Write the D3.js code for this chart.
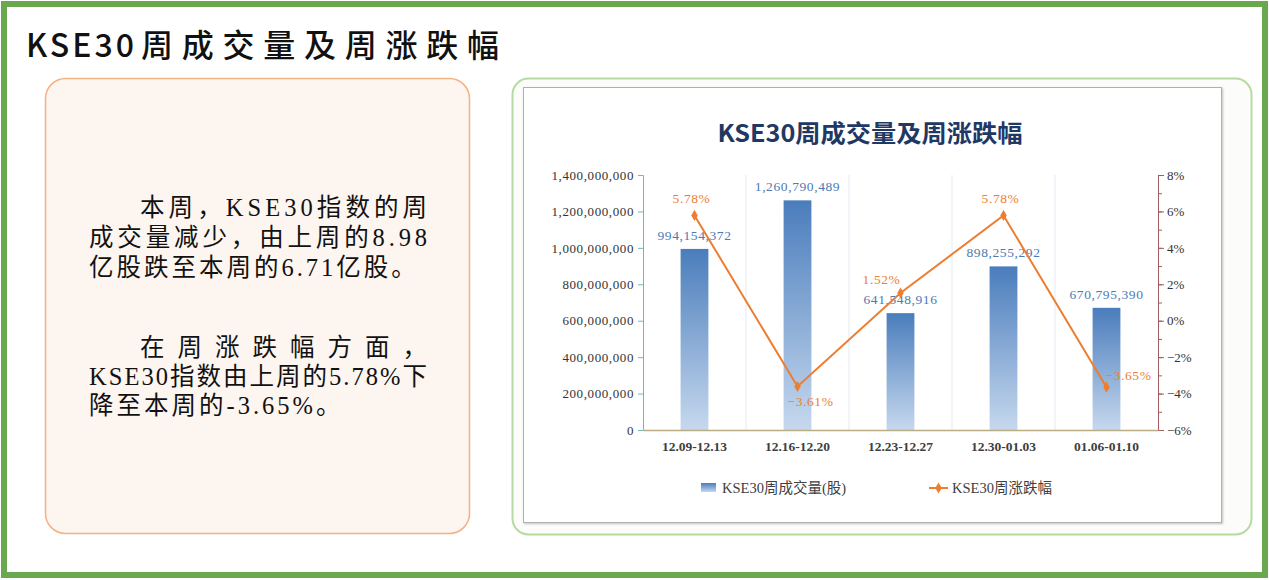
<!DOCTYPE html>
<html>
<head>
<meta charset="utf-8">
<script src="https://cdn.jsdelivr.net/npm/d3@7"></script>
<style>
  body { margin: 0; background: #fff; }
  svg { display: block; }
</style>
</head>
<body>
<svg id="container" width="1269" height="580"></svg>
<script>
(function (d3) {
  'use strict';

  // data
  const categories = ['12.09-12.13', '12.16-12.20', '12.23-12.27', '12.30-01.03', '01.06-01.10'];
  const volumes = [994154372, 1260790489, 641548916, 898255292, 670795390];
  const changes = [5.78, -3.61, 1.52, 5.78, -3.65];
  const volumeTicks = [0, 200000000, 400000000, 600000000, 800000000, 1000000000, 1200000000, 1400000000];
  const changeTicks = [-6, -4, -2, 0, 2, 4, 6, 8];
  const para1 = ['本周，KSE30指数的周', '成交量减少，由上周的8.98', '亿股跌至本周的6.71亿股。'];
  const para2 = ['在周涨跌幅方面，', 'KSE30指数由上周的5.78%下', '降至本周的-3.65%。'];

  const SERIF = "'Liberation Serif', 'Noto Sans CJK SC', serif";
  const CJK = "'Noto Sans CJK SC', sans-serif";

  const svg = d3.select('#container');

  // outer green frame
  svg.append('rect')
    .attr('x', 4).attr('y', 4).attr('width', 1261).attr('height', 571)
    .attr('fill', '#fff').attr('stroke', '#6aa84f').attr('stroke-width', 6);

  const title = svg.append('text')
    .attr('y', 57)
    .attr('font-family', CJK).attr('font-size', 32).attr('font-weight', 500)
    .attr('fill', '#111');
  title.append('tspan').attr('x', 26).attr('textLength', 108).attr('lengthAdjust', 'spacing').text('KSE30');
  title.append('tspan').attr('x', 141).attr('textLength', 358).attr('lengthAdjust', 'spacing').text('周成交量及周涨跌幅');

  // left text box
  svg.append('rect')
    .attr('x', 45.5).attr('y', 78.5).attr('width', 424).attr('height', 455).attr('rx', 20)
    .attr('fill', '#fdf5f0').attr('stroke', '#f4b183').attr('stroke-width', 1.5);

  const txt = svg.append('g')
    .attr('font-family', SERIF).attr('font-size', 24.5).attr('fill', '#111');

  // [text, x, baseline, justify width or null]
  const lines = [
    [para1[0], 140, 216, 287],
    [para1[1], 89, 246, 338],
    [para1[2], 89, 276, null],
    [para2[0], 140, 356, 287],
    [para2[1], 89, 385, 338],
    [para2[2], 89, 414, null]
  ];
  lines.forEach(([t, x, y, w]) => {
    const el = txt.append('text').attr('x', x).attr('y', y).text(t);
    if (w) el.attr('textLength', w).attr('lengthAdjust', 'spacing');
    else el.attr('letter-spacing', 3);
  });

  // right chart frame
  svg.append('rect')
    .attr('x', 512.5).attr('y', 78.5).attr('width', 739).attr('height', 456).attr('rx', 16)
    .attr('fill', '#fcfdfb').attr('stroke', '#b5dba0').attr('stroke-width', 2);

  const defs = svg.append('defs');
  const shadow = defs.append('filter').attr('id', 'shadow').attr('x', '-5%').attr('y', '-5%').attr('width', '110%').attr('height', '110%');
  shadow.append('feDropShadow').attr('dx', 1).attr('dy', 1).attr('stdDeviation', 1.2).attr('flood-color', '#999').attr('flood-opacity', 0.6);

  svg.append('rect')
    .attr('x', 523.5).attr('y', 87.5).attr('width', 698).attr('height', 435)
    .attr('fill', '#fff').attr('stroke', '#b0b0b0').attr('stroke-width', 1)
    .attr('filter', 'url(#shadow)');

  const grad = defs.append('linearGradient').attr('id', 'barGrad')
    .attr('x1', 0).attr('y1', 0).attr('x2', 0).attr('y2', 1);
  grad.append('stop').attr('offset', '0%').attr('stop-color', '#4a7dbc');
  grad.append('stop').attr('offset', '100%').attr('stop-color', '#c6d8ee');

  svg.append('text')
    .attr('x', 870).attr('y', 142).attr('text-anchor', 'middle')
    .attr('font-family', CJK).attr('font-size', 24).attr('font-weight', 'bold')
    .attr('fill', '#1f3864')
    .attr('textLength', 305).attr('lengthAdjust', 'spacingAndGlyphs')
    .text('KSE30周成交量及周涨跌幅');

  const left = 643, right = 1158, top = 175, bottom = 430;

  const x = d3.scaleBand().domain(categories).range([left, right]);
  const yL = d3.scaleLinear().domain([0, 1400000000]).range([bottom, top]);
  const yR = d3.scaleLinear().domain([-6, 8]).range([bottom, top]);

  const fmtNum = d3.format(',');
  const fmtPct = (v) => d3.format('.2f')(v) + '%';

  // vertical separators
  svg.append('g').selectAll('line')
    .data(categories.slice(1))
    .enter().append('line')
    .attr('x1', (c) => x(c)).attr('x2', (c) => x(c))
    .attr('y1', top).attr('y2', bottom)
    .attr('stroke', '#e3e9f1').attr('stroke-width', 1);

  // bars
  const barW = x.bandwidth() * 0.27;
  svg.append('g').selectAll('rect')
    .data(volumes)
    .enter().append('rect')
    .attr('x', (v, i) => x(categories[i]) + (x.bandwidth() - barW) / 2)
    .attr('y', (v) => yL(v))
    .attr('width', barW)
    .attr('height', (v) => bottom - yL(v))
    .attr('fill', 'url(#barGrad)');

  // left axis
  const axL = svg.append('g')
    .attr('transform', `translate(${left},0)`)
    .call(d3.axisLeft(yL).tickValues(volumeTicks).tickSize(5).tickPadding(4).tickFormat(fmtNum));
  axL.select('.domain').attr('stroke', '#74b5bb');
  axL.selectAll('.tick line').attr('stroke', '#74b5bb');
  axL.selectAll('.tick text')
    .attr('font-family', SERIF).attr('font-size', 13).attr('fill', '#333')
    .attr('letter-spacing', 0.6);

  // right axis, with minor ticks
  const axRminor = svg.append('g')
    .attr('transform', `translate(${right},0)`)
    .call(d3.axisRight(yR).tickValues(d3.range(-6, 9, 1)).tickSize(4).tickFormat(''));
  axRminor.select('.domain').remove();
  axRminor.selectAll('.tick line').attr('stroke', '#a45d5d');

  const axR = svg.append('g')
    .attr('transform', `translate(${right},0)`)
    .call(d3.axisRight(yR).tickValues(changeTicks).tickSize(6).tickPadding(3).tickFormat((d) => d3.format('d')(d) + '%'));
  axR.select('.domain').attr('stroke', '#a45d5d');
  axR.selectAll('.tick line').attr('stroke', '#a45d5d');
  axR.selectAll('.tick text')
    .attr('font-family', SERIF).attr('font-size', 13).attr('fill', '#333');

  // x axis
  const axX = svg.append('g')
    .attr('transform', `translate(0,${bottom})`)
    .call(d3.axisBottom(x).tickSize(0).tickPadding(11));
  axX.select('.domain').attr('stroke', '#b8ad84').attr('stroke-width', 1.5);
  axX.selectAll('.tick text')
    .attr('font-family', SERIF).attr('font-size', 13.5).attr('font-weight', 'bold').attr('fill', '#404040');

  // bar labels
  svg.append('g').selectAll('text')
    .data(volumes)
    .enter().append('text')
    .attr('x', (v, i) => x(categories[i]) + x.bandwidth() / 2)
    .attr('y', (v) => yL(v) - 9)
    .attr('text-anchor', 'middle')
    .attr('font-family', SERIF).attr('font-size', 13.5).attr('fill', '#4e79b2')
    .attr('letter-spacing', 0.6)
    .text((v) => fmtNum(v));

  // line series
  const cx = (i) => x(categories[i]) + x.bandwidth() / 2;
  const line = d3.line().x((v, i) => cx(i)).y((v) => yR(v));
  svg.append('path')
    .datum(changes)
    .attr('d', line)
    .attr('fill', 'none').attr('stroke', '#ed7d31').attr('stroke-width', 2);

  const diamond = d3.symbol().type(d3.symbolDiamond).size(36);
  svg.append('g').selectAll('path')
    .data(changes)
    .enter().append('path')
    .attr('transform', (v, i) => `translate(${cx(i)},${yR(v)})`)
    .attr('d', diamond)
    .attr('fill', '#ed7d31');

  // label placement for the percentage labels
  const labelOffset = { above: [-3, -12], below: [13, 20], aboveLeft: [-19, -9], right: [22, -7] };
  const labelPlace = ['above', 'below', 'aboveLeft', 'above', 'right'];
  svg.append('g').selectAll('text')
    .data(changes)
    .enter().append('text')
    .attr('x', (v, i) => cx(i) + labelOffset[labelPlace[i]][0])
    .attr('y', (v, i) => yR(v) + labelOffset[labelPlace[i]][1])
    .attr('text-anchor', 'middle')
    .attr('font-family', SERIF).attr('font-size', 13.5).attr('fill', '#ed7d31')
    .attr('letter-spacing', 0.6)
    .text((v) => fmtPct(v));

  // legend
  const lg = svg.append('g').attr('font-family', SERIF).attr('font-size', 14.5).attr('fill', '#404040');
  lg.append('rect').attr('x', 701).attr('y', 483).attr('width', 15).attr('height', 9).attr('fill', 'url(#barGrad)');
  lg.append('text').attr('x', 722).attr('y', 493).text('KSE30周成交量(股)');
  lg.append('line').attr('x1', 929).attr('x2', 948).attr('y1', 488).attr('y2', 488)
    .attr('stroke', '#ed7d31').attr('stroke-width', 2);
  lg.append('path').attr('transform', 'translate(938.5,488)').attr('d', diamond).attr('fill', '#ed7d31');
  lg.append('text').attr('x', 952).attr('y', 493).text('KSE30周涨跌幅');

}(d3));
</script>
</body>
</html>
